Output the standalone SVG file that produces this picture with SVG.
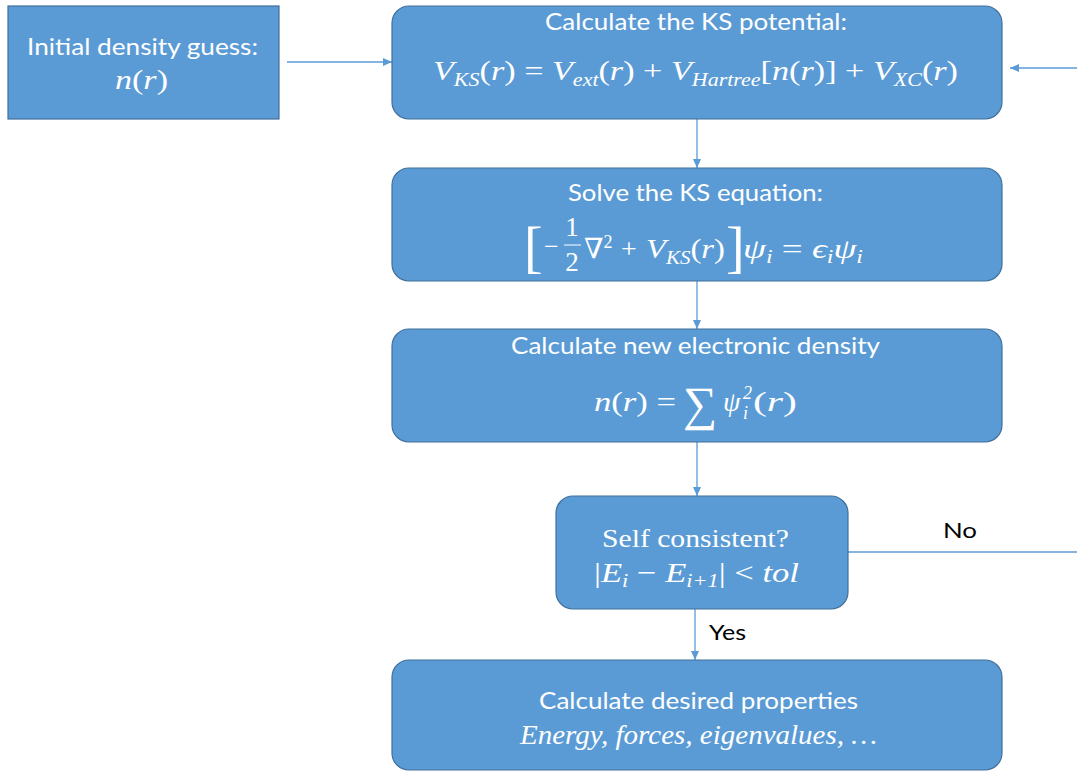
<svg xmlns="http://www.w3.org/2000/svg" width="1077" height="771" viewBox="0 0 1077 771">
<style>
.box{fill:#5B9BD5;stroke:#41719C;stroke-width:1.2}
.t{font-family:Lato,"Open Sans","Liberation Sans",sans-serif;font-size:23px;fill:#fff}
.m{font-family:"Liberation Serif","DejaVu Serif",serif;font-size:28px;fill:#fff}
.i{font-style:italic}
.s{font-size:18px}
.lbl{font-family:Lato,"Liberation Sans",sans-serif;font-size:22px;fill:#000}
.c{fill:none;stroke:#5B9BD5;stroke-width:1.3}
</style>
<defs>
<marker id="ah" markerUnits="userSpaceOnUse" markerWidth="9" markerHeight="8" refX="9" refY="4" orient="auto">
<path d="M0,0 L9,4 L0,8 z" fill="#5B9BD5"/>
</marker>
</defs>
<rect width="1077" height="771" fill="#fff"/>
<g id="connectors">
<path class="c" d="M287,62 H392" marker-end="url(#ah)"/>
<path class="c" d="M1077,68 H1010" marker-end="url(#ah)"/>
<path class="c" d="M697,119 V168" marker-end="url(#ah)"/>
<path class="c" d="M697,281 V329" marker-end="url(#ah)"/>
<path class="c" d="M697,442 V496" marker-end="url(#ah)"/>
<path class="c" d="M695,609 V660" marker-end="url(#ah)"/>
<path class="c" d="M848,552 H1077"/>
<text class="lbl" x="943" y="538" textLength="34" lengthAdjust="spacingAndGlyphs">No</text>
<text class="lbl" x="709" y="640" textLength="37" lengthAdjust="spacingAndGlyphs">Yes</text>
</g>
<g id="initial">
<rect class="box" x="8" y="6" width="271" height="113"/>
<text class="t" x="27" y="55" textLength="231" lengthAdjust="spacingAndGlyphs">Initial density guess:</text>
<text class="m" x="115" y="89" textLength="53" lengthAdjust="spacingAndGlyphs"><tspan class="i">n</tspan>(<tspan class="i">r</tspan>)</text>
</g>
<g id="ks-potential">
<rect class="box" x="392" y="6" width="610" height="113" rx="17"/>
<text class="t" x="545" y="30" textLength="302" lengthAdjust="spacingAndGlyphs">Calculate the KS potential:</text>
<text class="m" x="433" y="80" textLength="525" lengthAdjust="spacingAndGlyphs"><tspan class="i">V</tspan><tspan class="i s" dy="6">KS</tspan><tspan dy="-6">(</tspan><tspan class="i">r</tspan>) = <tspan class="i">V</tspan><tspan class="i s" dy="6">ext</tspan><tspan dy="-6">(</tspan><tspan class="i">r</tspan>) + <tspan class="i">V</tspan><tspan class="i s" dy="6">Hartree</tspan><tspan dy="-6">[</tspan><tspan class="i">n</tspan>(<tspan class="i">r</tspan>)] + <tspan class="i">V</tspan><tspan class="i s" dy="6">XC</tspan><tspan dy="-6">(</tspan><tspan class="i">r</tspan>)</text>
</g>
<g id="ks-equation">
<rect class="box" x="392" y="168" width="610" height="113" rx="17"/>
<text class="t" x="568" y="201" textLength="255" lengthAdjust="spacingAndGlyphs">Solve the KS equation:</text>
<text class="m" x="524" y="266" style="font-size:56px">[</text>
<text class="m" x="544" y="255" style="font-size:26px">−</text>
<text class="m" x="572" y="236" text-anchor="middle" style="font-size:27px">1</text>
<line x1="564" y1="245" x2="581" y2="245" stroke="#fff" stroke-width="1"/>
<text class="m" x="572" y="271" text-anchor="middle" style="font-size:27px">2</text>
<text class="m" x="584" y="258">∇<tspan class="s" dy="-10">2</tspan></text>
<text class="m" x="621" y="258">+</text>
<text class="m" x="646" y="258" textLength="79" lengthAdjust="spacingAndGlyphs"><tspan class="i">V</tspan><tspan class="i s" dy="6">KS</tspan><tspan dy="-6">(</tspan><tspan class="i">r</tspan>)</text>
<text class="m" x="726" y="266" style="font-size:56px">]</text>
<text class="m" x="743" y="258" textLength="120" lengthAdjust="spacingAndGlyphs"><tspan class="i">ψ</tspan><tspan class="i s" dy="5">i</tspan><tspan dy="-5"> = </tspan><tspan class="i">ϵ</tspan><tspan class="i s" dy="5">i</tspan><tspan class="i" dy="-5">ψ</tspan><tspan class="i s" dy="5">i</tspan></text>
</g>
<g id="new-density">
<rect class="box" x="392" y="329" width="610" height="113" rx="17"/>
<text class="t" x="511" y="354" textLength="369" lengthAdjust="spacingAndGlyphs">Calculate new electronic density</text>
<text class="m" x="594" y="411" textLength="82" lengthAdjust="spacingAndGlyphs"><tspan class="i">n</tspan>(<tspan class="i">r</tspan>) =</text>
<text class="m" x="683" y="420" style="font-size:48px">∑</text>
<text class="m i" x="723" y="411">ψ</text>
<text class="m i s" x="743" y="399">2</text>
<text class="m i s" x="743" y="419">i</text>
<text class="m" x="753" y="411" textLength="44" lengthAdjust="spacingAndGlyphs">(<tspan class="i">r</tspan>)</text>
</g>
<g id="self-consistent">
<rect class="box" x="556" y="496" width="292" height="113" rx="17"/>
<text class="m" x="602" y="547" style="font-size:26px" textLength="187" lengthAdjust="spacingAndGlyphs">Self consistent?</text>
<text class="m" x="594" y="582" textLength="205" lengthAdjust="spacingAndGlyphs">|<tspan class="i">E</tspan><tspan class="i s" dy="5">i</tspan><tspan dy="-5"> − </tspan><tspan class="i">E</tspan><tspan class="i s" dy="5">i+1</tspan><tspan dy="-5">|  &lt; </tspan><tspan class="i">tol</tspan></text>
</g>
<g id="desired">
<rect class="box" x="392" y="660" width="610" height="110" rx="17"/>
<text class="t" x="539" y="709" textLength="319" lengthAdjust="spacingAndGlyphs">Calculate desired properties</text>
<text class="m i" x="520" y="744" style="font-size:27px" textLength="357" lengthAdjust="spacingAndGlyphs">Energy, forces, eigenvalues, …</text>
</g>
</svg>
